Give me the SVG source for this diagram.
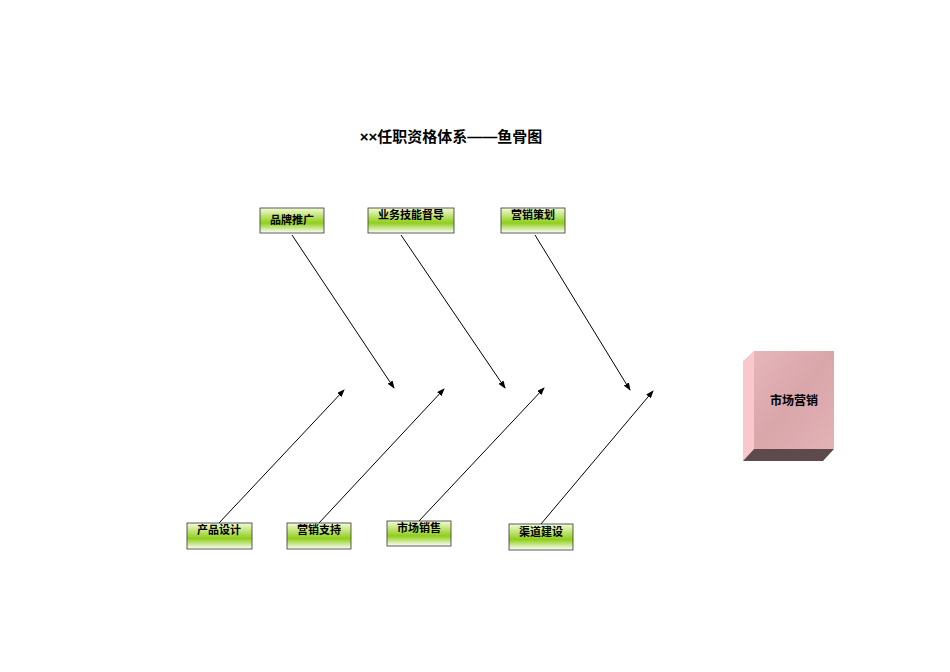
<svg xmlns="http://www.w3.org/2000/svg" width="950" height="672" viewBox="0 0 950 672">
<style>
.t{font-family:"Liberation Sans","Noto Sans CJK SC",sans-serif;font-weight:bold;fill:#000}
.s{font-size:11px;text-anchor:middle}
.b{fill:url(#g);stroke:#333;stroke-width:0.8}
.c{stroke:#000;stroke-width:1;fill:none;marker-end:url(#a)}
</style>
<defs>
<linearGradient id="g" x1="0" y1="0" x2="0" y2="1">
<stop offset="0" stop-color="#f4fbd8"/><stop offset="0.6" stop-color="#8fce1a"/><stop offset="1" stop-color="#ffffff"/>
</linearGradient>
<linearGradient id="p" x1="0" y1="0" x2="1" y2="1">
<stop offset="0" stop-color="#e6b6ba"/><stop offset="0.5" stop-color="#d9a6aa"/><stop offset="1" stop-color="#e3b3b6"/>
</linearGradient>
<marker id="a" markerWidth="8" markerHeight="6" refX="7" refY="3" orient="auto" markerUnits="userSpaceOnUse"><path d="M0,0L8,3L0,6z" fill="#000"/></marker>
</defs>
<rect width="950" height="672" fill="#fff"/>
<text class="t" x="451" y="142" font-size="15" text-anchor="middle">××任职资格体系——鱼骨图</text>
<g id="connectors">
<line class="c" x1="292" y1="235" x2="394" y2="388"/>
<line class="c" x1="401" y1="235" x2="505" y2="388"/>
<line class="c" x1="535" y1="235" x2="630" y2="390"/>
<line class="c" x1="219" y1="523" x2="344" y2="390"/>
<line class="c" x1="319" y1="523" x2="444" y2="389"/>
<line class="c" x1="419" y1="521" x2="544" y2="388"/>
<line class="c" x1="541" y1="524" x2="653" y2="391"/>
</g>
<g id="n1"><rect class="b" x="260" y="208" width="64" height="25"/><text class="t s" x="292" y="224">品牌推广</text></g>
<g id="n2"><rect class="b" x="368" y="208" width="86" height="25"/><text class="t s" x="411" y="219">业务技能督导</text></g>
<g id="n3"><rect class="b" x="501" y="208" width="64" height="25"/><text class="t s" x="533" y="219">营销策划</text></g>
<g id="n4"><rect class="b" x="187" y="523" width="65" height="26"/><text class="t s" x="219" y="534">产品设计</text></g>
<g id="n5"><rect class="b" x="287" y="523" width="64" height="26"/><text class="t s" x="319" y="534">营销支持</text></g>
<g id="n6"><rect class="b" x="387" y="521" width="64" height="25"/><text class="t s" x="419" y="532">市场销售</text></g>
<g id="n7"><rect class="b" x="509" y="524" width="64" height="26"/><text class="t s" x="541" y="536">渠道建设</text></g>
<g id="main">
<polygon points="743,361 754,351 754,449 743,461" fill="#f9c8cc"/>
<polygon points="754,449 834,449 823,461 743,461" fill="#5e4a4c"/>
<rect x="754" y="351" width="80" height="98" fill="url(#p)"/>
<text class="t" x="794" y="405" font-size="12" text-anchor="middle">市场营销</text>
</g>
</svg>
